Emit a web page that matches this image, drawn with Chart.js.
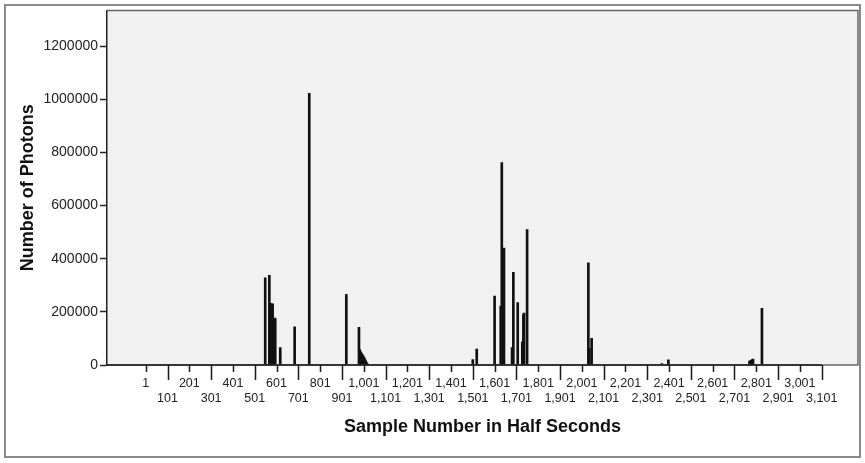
<!DOCTYPE html>
<html>
<head>
<meta charset="utf-8">
<script src="https://cdn.jsdelivr.net/npm/chart.js@4.4.0/dist/chart.umd.min.js"></script>
<style>
    body { margin: 0; background: #fff; }
</style>
</head>
<body>
<canvas id="myChart" width="865" height="463"></canvas>
<script>

/// DATA

const amostras = [
    549, 568, 571, 574, 577, 580, 583, 586, 589, 592, 595, 618, 684, 751,
    921, 979, 982, 985, 988, 991, 994, 997, 1000, 1003, 1006, 1009, 1012, 1015, 1018,
    1501, 1519, 1601, 1629, 1634, 1644, 1681, 1687, 1707, 1728, 1733, 1736, 1750,
    2031, 2035, 2046, 2368, 2398, 2770, 2776, 2782, 2786, 2827
];

const fotons = [
    328000, 338000, 232000, 229000, 231000, 228000, 230000, 176000, 174000, 177000, 175000, 66000, 144000, 1023000,
    266000, 142000, 58000, 52000, 47000, 43000, 39000, 35000, 31000, 27000, 22000, 17000, 12000, 7000, 3000,
    20000, 60000, 259000, 222000, 762000, 440000, 66000, 349000, 235000, 86000, 190000, 195000, 510000,
    385000, 63000, 100000, 5000, 19000, 15000, 18000, 20000, 22000, 213000
];

const ticks_x = [1, 101, 201, 301, 401, 501, 601, 701, 801, 901, 1001, 1101, 1201, 1301, 1401, 1501,
    1601, 1701, 1801, 1901, 2001, 2101, 2201, 2301, 2401, 2501, 2601, 2701, 2801, 2901, 3001, 3101];

const ticks_y = [0, 200000, 400000, 600000, 800000, 1000000, 1200000];


/// FRAME, PLOT BACKGROUND AND STAGGERED X TICKS

const moldura = {
    id: 'moldura',
    beforeDraw(chart) {
        const { ctx, chartArea } = chart;
        ctx.save();
        ctx.fillStyle = '#ffffff';
        ctx.fillRect(0, 0, chart.width, chart.height);
        ctx.strokeStyle = '#8a8a8a';
        ctx.lineWidth = 2;
        ctx.strokeRect(5, 5, 855, 452);
        ctx.fillStyle = '#f1f1f1';
        ctx.fillRect(chartArea.left, chartArea.top, chartArea.right - chartArea.left, chartArea.bottom - chartArea.top);
        ctx.restore();
    },
    afterDraw(chart) {
        const { ctx, chartArea, scales } = chart;
        const x = scales.x;
        ctx.save();

        ctx.strokeStyle = '#666666';
        ctx.lineWidth = 1.5;
        ctx.beginPath();
        ctx.moveTo(chartArea.left, chartArea.top);
        ctx.lineTo(chartArea.right, chartArea.top);
        ctx.lineTo(chartArea.right, chartArea.bottom);
        ctx.lineTo(chartArea.left, chartArea.bottom);
        ctx.stroke();

        ctx.strokeStyle = '#1a1a1a';
        ctx.lineWidth = 1.5;
        ctx.beginPath();
        ctx.moveTo(chartArea.left, chartArea.bottom);
        ctx.lineTo(x.getPixelForValue(ticks_x[ticks_x.length - 1]), chartArea.bottom);
        ticks_x.forEach(function (v, i) {
            const px = Math.round(x.getPixelForValue(v)) + 0.5;
            ctx.moveTo(px, chartArea.bottom);
            ctx.lineTo(px, chartArea.bottom + (i % 2 ? 15 : 7));
        });
        ctx.stroke();
        ctx.restore();
    }
};


/// CHART

const ctx = document.getElementById('myChart').getContext('2d');

const myChart = new Chart(ctx, {
    type: 'bar',
    data: {
        datasets: [{
            label: 'Number of Photons',
            data: amostras.map(function (a, i) { return { x: a, y: fotons[i] }; }),
            backgroundColor: '#111111',
            borderWidth: 0,
            barThickness: 2
        }]
    },
    options: {
        responsive: false,
        animation: false,
        layout: {
            padding: { left: 0, top: 10, right: 7, bottom: 0 }
        },
        scales: {
            x: {
                type: 'linear',
                min: -176.5,
                max: 3267.5,
                offset: false,
                afterFit: function (scale) { scale.height = 98; },
                afterBuildTicks: function (scale) {
                    scale.ticks = ticks_x.map(function (v) { return { value: v }; });
                },
                grid: { display: false, offset: false },
                border: { display: false },
                ticks: {
                    autoSkip: false,
                    maxRotation: 0,
                    padding: 3,
                    color: '#222222',
                    font: { family: '"Liberation Sans", Arial, sans-serif', size: 12.5 },
                    callback: function (value, index) {
                        const txt = value.toLocaleString('en-US');
                        return index % 2 ? ['', txt] : [txt];
                    }
                },
                title: {
                    display: true,
                    text: 'Sample Number in Half Seconds',
                    color: '#111111',
                    font: { family: '"Liberation Sans", Arial, sans-serif', size: 18, weight: 'bold' },
                    padding: { top: 0, bottom: 25 }
                }
            },
            y: {
                min: 0,
                max: 1335000,
                afterFit: function (scale) { scale.width = 107; },
                afterBuildTicks: function (scale) {
                    scale.ticks = ticks_y.map(function (v) { return { value: v }; });
                },
                grid: {
                    drawOnChartArea: false,
                    drawTicks: true,
                    tickLength: 7,
                    tickColor: '#222222',
                    tickWidth: 1.5
                },
                border: { display: true, color: '#222222', width: 1.5 },
                ticks: {
                    padding: 2,
                    color: '#222222',
                    font: { family: '"Liberation Sans", Arial, sans-serif', size: 14 },
                    callback: function (value) { return String(value); }
                },
                title: {
                    display: true,
                    text: 'Number of Photons',
                    color: '#111111',
                    font: { family: '"Liberation Sans", Arial, sans-serif', size: 18, weight: 'bold' },
                    padding: { top: 17, bottom: 0 }
                }
            }
        },
        plugins: {
            legend: { display: false },
            tooltip: { enabled: false }
        }
    },
    plugins: [moldura]
});

</script>
</body>
</html>
